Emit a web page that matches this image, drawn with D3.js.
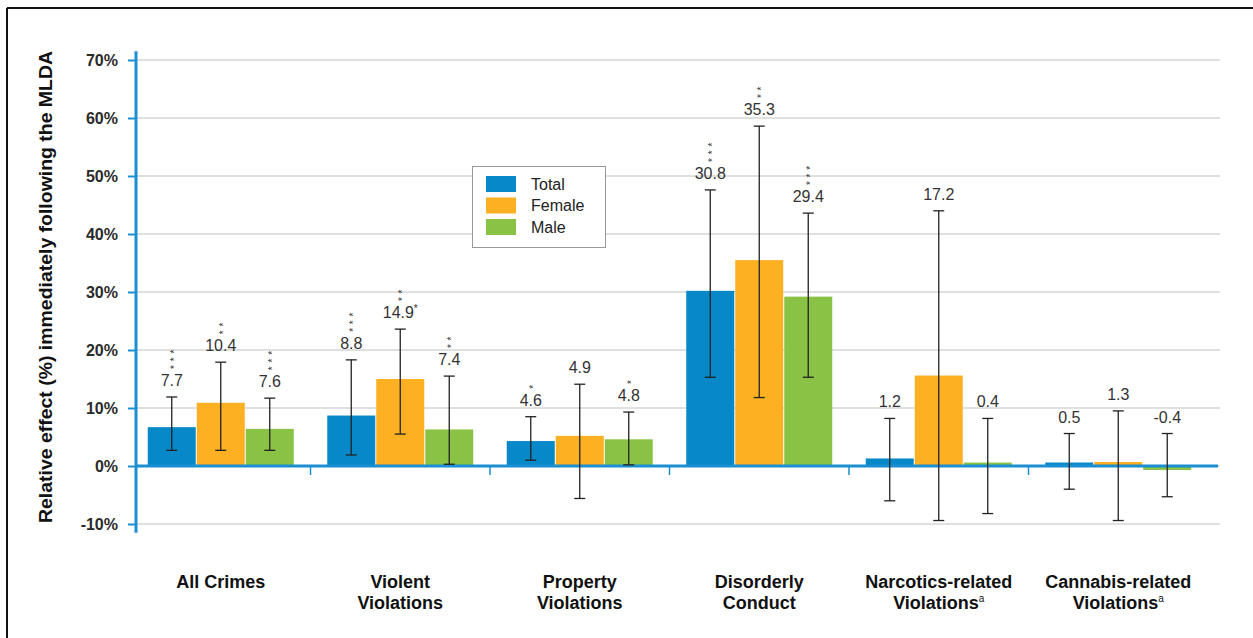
<!DOCTYPE html>
<meta charset="utf-8">
<head>
<style>
body { margin: 0; background-color: white; }
text { font-family: "Liberation Sans", Arial, sans-serif; }
</style>
</head>

<script src="https://d3js.org/d3.v7.min.js"></script>

<div id="my_dataviz"></div>

<script>

// categories and series
var categories = ["All Crimes", "Violent Violations", "Property Violations", "Disorderly Conduct",
                  "Narcotics-related Violations", "Cannabis-related Violations"];
var catLines = [["All Crimes"], ["Violent", "Violations"], ["Property", "Violations"],
                ["Disorderly", "Conduct"], ["Narcotics-related", "Violations"], ["Cannabis-related", "Violations"]];
var catSup = ["", "", "", "", "a", "a"];
var seriesNames = ["Total", "Female", "Male"];

// bar heights (%)
var totalVals  = [6.7, 8.7, 4.3, 30.2, 1.3, 0.6];
var femaleVals = [10.9, 15.0, 5.2, 35.5, 15.6, 0.7];
var maleVals   = [6.4, 6.3, 4.6, 29.2, 0.6, -0.7];

// confidence intervals
var totalLo  = [2.7, 1.9, 1.0, 15.3, -6.0, -4.0];
var totalHi  = [11.9, 18.3, 8.5, 47.6, 8.2, 5.6];
var femaleLo = [2.7, 5.5, -5.6, 11.8, -9.4, -9.4];
var femaleHi = [17.9, 23.6, 14.1, 58.6, 44.0, 9.5];
var maleLo   = [2.7, 0.3, 0.2, 15.3, -8.2, -5.3];
var maleHi   = [11.7, 15.5, 9.3, 43.6, 8.2, 5.6];

// printed labels and significance stars
var totalLabels  = ["7.7", "8.8", "4.6", "30.8", "1.2", "0.5"];
var femaleLabels = ["10.4", "14.9", "4.9", "35.3", "17.2", "1.3"];
var maleLabels   = ["7.6", "7.4", "4.8", "29.4", "0.4", "-0.4"];
var totalStars  = [3, 3, 1, 3, 0, 0];
var femaleStars = [2, 2, 0, 2, 0, 0];
var maleStars   = [3, 2, 1, 3, 0, 0];
var femaleSuffix = ["", "*", "", "", "", ""];

var yTicks = [-10, 0, 10, 20, 30, 40, 50, 60, 70];

var colors = ["#0788c9", "#fcb022", "#89c244"];
var axisBlue = "#1b8fd2";

var W = 1253, H = 638;

var svg = d3.select("#my_dataviz")
  .append("svg")
    .attr("width", W)
    .attr("height", H);

// frame
svg.append("line").attr("x1", 7).attr("x2", W).attr("y1", 8).attr("y2", 8)
  .attr("stroke", "#111").attr("stroke-width", 2);
svg.append("line").attr("x1", 7).attr("x2", 7).attr("y1", 8).attr("y2", H)
  .attr("stroke", "#111").attr("stroke-width", 2);

// scales
var y = d3.scaleLinear().domain([-10, 70]).range([524, 60]);
var x = d3.scaleBand().domain(categories).range([131, 1208]).paddingInner(0);
var xs = d3.scaleBand().domain(seriesNames).range([-73.5, 73.5]);

var axisX = 136;

// gridlines
svg.append("g")
  .selectAll("line")
  .data(yTicks)
  .enter().append("line")
    .attr("x1", axisX).attr("x2", 1220)
    .attr("y1", function(d) { return y(d); })
    .attr("y2", function(d) { return y(d); })
    .attr("stroke", "#d6d6d6").attr("stroke-width", 1.3);

// y axis
var yAxis = svg.append("g")
  .attr("transform", "translate(" + axisX + ",0)")
  .call(d3.axisLeft(y).tickValues(yTicks).tickSize(8).tickPadding(10)
        .tickFormat(function(d) { return d + "%"; }));
yAxis.select(".domain").remove();
yAxis.selectAll(".tick line").attr("stroke", axisBlue).attr("stroke-width", 2);
yAxis.selectAll(".tick text")
  .attr("font-family", "'Liberation Sans', Arial, sans-serif")
  .attr("font-weight", "bold")
  .attr("font-size", "16px")
  .attr("fill", "#2a2a2a");
svg.append("line")
  .attr("x1", axisX).attr("x2", axisX)
  .attr("y1", y(71.5)).attr("y2", y(-11.5))
  .attr("stroke", axisBlue).attr("stroke-width", 3);

// y title
svg.append("text")
  .attr("transform", "translate(52," + 287 + ") rotate(-90)")
  .attr("text-anchor", "middle")
  .attr("font-weight", "bold")
  .attr("font-size", "19px")
  .attr("textLength", 472)
  .attr("lengthAdjust", "spacingAndGlyphs")
  .attr("fill", "#111")
  .text("Relative effect (%) immediately following the MLDA");

// build rows
var rows = [];
var vals = [totalVals, femaleVals, maleVals];
var los = [totalLo, femaleLo, maleLo];
var his = [totalHi, femaleHi, maleHi];
var labs = [totalLabels, femaleLabels, maleLabels];
var stars = [totalStars, femaleStars, maleStars];
categories.forEach(function(c, i) {
  seriesNames.forEach(function(s, j) {
    rows.push({
      cat: c, ser: s, color: colors[j],
      v: vals[j][i], lo: los[j][i], hi: his[j][i],
      label: labs[j][i], stars: stars[j][i],
      suffix: j === 1 ? femaleSuffix[i] : ""
    });
  });
});

function cx(d) { return x(d.cat) + x.bandwidth() / 2 + xs(d.ser) + xs.bandwidth() / 2; }

// bars
svg.append("g")
  .selectAll("rect")
  .data(rows)
  .enter().append("rect")
    .attr("x", function(d) { return x(d.cat) + x.bandwidth() / 2 + xs(d.ser) + 0.5; })
    .attr("width", xs.bandwidth() - 1)
    .attr("y", function(d) { return y(Math.max(0, d.v)); })
    .attr("height", function(d) { return Math.abs(y(d.v) - y(0)); })
    .attr("fill", function(d) { return d.color; });

// zero line and category ticks
svg.append("line")
  .attr("x1", axisX).attr("x2", 1218)
  .attr("y1", y(0)).attr("y2", y(0))
  .attr("stroke", axisBlue).attr("stroke-width", 3);
svg.append("g")
  .selectAll("line")
  .data(categories.slice(1))
  .enter().append("line")
    .attr("x1", function(d) { return x(d); })
    .attr("x2", function(d) { return x(d); })
    .attr("y1", y(0)).attr("y2", y(0) + 9)
    .attr("stroke", axisBlue).attr("stroke-width", 1.5);

// error bars
var eb = svg.append("g").attr("stroke", "#222").attr("stroke-width", 1.3);
eb.selectAll(".stem").data(rows).enter().append("line")
  .attr("x1", cx).attr("x2", cx)
  .attr("y1", function(d) { return y(d.lo); })
  .attr("y2", function(d) { return y(d.hi); });
eb.selectAll(".capHi").data(rows).enter().append("line")
  .attr("x1", function(d) { return cx(d) - 5.5; })
  .attr("x2", function(d) { return cx(d) + 5.5; })
  .attr("y1", function(d) { return y(d.hi); })
  .attr("y2", function(d) { return y(d.hi); });
eb.selectAll(".capLo").data(rows).enter().append("line")
  .attr("x1", function(d) { return cx(d) - 5.5; })
  .attr("x2", function(d) { return cx(d) + 5.5; })
  .attr("y1", function(d) { return y(d.lo); })
  .attr("y2", function(d) { return y(d.lo); });

// value labels
var lab = svg.append("g")
  .selectAll("g")
  .data(rows)
  .enter().append("g")
    .attr("transform", function(d) { return "translate(" + cx(d) + "," + (y(d.hi) - 11) + ")"; });

var lt = lab.append("text")
  .attr("text-anchor", "middle")
  .attr("font-size", "16px")
  .attr("fill", "#333");
lt.append("tspan").text(function(d) { return d.label; });
lt.append("tspan")
  .attr("font-size", "10px")
  .attr("dy", -6)
  .text(function(d) { return d.suffix; });

// stars stacked above label: one rotated run of asterisks
lab.filter(function(d) { return d.stars > 0; })
  .append("text")
    .attr("transform", "translate(5.8,-17) rotate(-90)")
    .attr("font-size", "10px")
    .attr("letter-spacing", 3.8)
    .attr("fill", "#333")
    .text(function(d) { return "*".repeat(d.stars); });

// category labels
var cl = svg.append("g")
  .selectAll("text")
  .data(categories)
  .enter().append("text")
    .attr("text-anchor", "middle")
    .attr("font-weight", "bold")
    .attr("font-size", "18px")
    .attr("fill", "#111")
    .attr("x", function(d) { return x(d) + x.bandwidth() / 2; })
    .attr("y", 588);
cl.each(function(d, i) {
  var t = d3.select(this);
  catLines[i].forEach(function(line, k) {
    t.append("tspan")
      .attr("x", x(d) + x.bandwidth() / 2)
      .attr("dy", k === 0 ? 0 : 20.6)
      .text(line);
    if (k === catLines[i].length - 1 && catSup[i]) {
      t.append("tspan")
        .attr("font-size", "10px")
        .attr("font-weight", "normal")
        .attr("dy", -7)
        .text(catSup[i]);
    }
  });
});

// legend
var legend = svg.append("g");
legend.append("rect")
  .attr("x", 472.5).attr("y", 166.5).attr("width", 133).attr("height", 81)
  .attr("fill", "white").attr("stroke", "#999").attr("stroke-width", 1);
seriesNames.forEach(function(s, j) {
  legend.append("rect")
    .attr("x", 486).attr("y", 176 + j * 21.5)
    .attr("width", 30).attr("height", 16)
    .attr("fill", colors[j]);
  legend.append("text")
    .attr("x", 531).attr("y", 189.5 + j * 21.5)
    .attr("font-size", "16px")
    .attr("fill", "#222")
    .text(s);
});

</script>
